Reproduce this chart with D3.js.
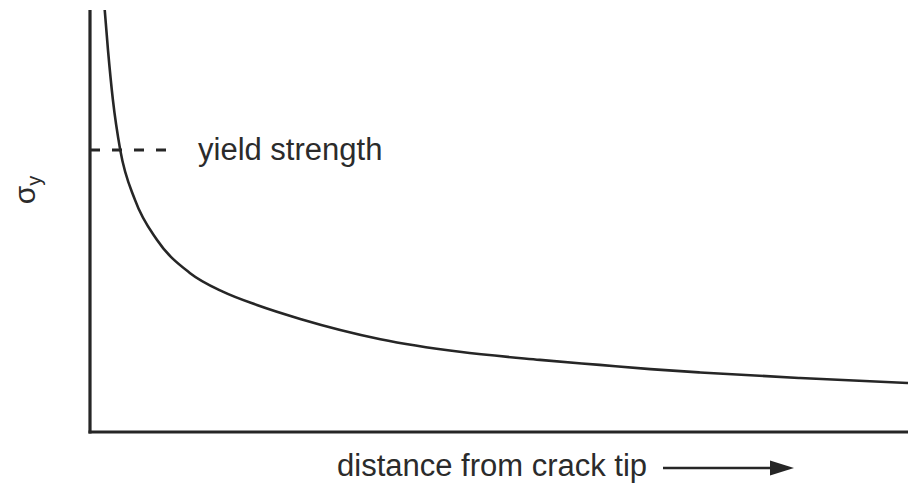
<!DOCTYPE html>
<html>
<head>
<meta charset="utf-8">
<script src="https://cdn.jsdelivr.net/npm/d3@7"></script>
<style>
  body { margin: 0; background: #fff; }
  text { font-family: "Liberation Sans", Arial, sans-serif; fill: #2b2b2b; }
</style>
</head>
<body>
<script>
// distance from crack tip (arbitrary units) and local stress
var distance = [1.8, 2.2, 2.8, 3.7, 5.5, 8.2, 12.2, 16.3, 20.4, 25.7, 35.5, 45.2, 55.0, 62.3, 68.5, 74.6, 86.8, 100];
var stress = [100, 90.5, 78.7, 66.8, 55.0, 45.5, 37.7, 33.2, 30.1, 26.8, 22.0, 19.0, 17.1, 15.9, 14.9, 14.1, 12.8, 11.6];
var yieldStrength = 66.8;
var yieldExtent = [0, 9.4];

var width = 908;
var height = 485;

var x = d3.scaleLinear().domain([0, 100]).range([90, 908]);
var y = d3.scaleLinear().domain([0, 100]).range([432, 10]);

var svg = d3.select('body').append('svg')
  .attr('width', width)
  .attr('height', height);

var ink = '#262626';

// axes, no ticks
svg.append('line')
  .attr('x1', x(0)).attr('x2', x(0))
  .attr('y1', y(100)).attr('y2', y(0) + 1.5)
  .attr('stroke', ink).attr('stroke-width', 3.2);
svg.append('line')
  .attr('x1', x(0) - 1.5).attr('x2', x(100))
  .attr('y1', y(0)).attr('y2', y(0))
  .attr('stroke', ink).attr('stroke-width', 3.2);

// yield strength dashes
svg.append('line')
  .attr('x1', x(yieldExtent[0])).attr('x2', x(yieldExtent[1]))
  .attr('y1', y(yieldStrength)).attr('y2', y(yieldStrength))
  .attr('stroke', ink).attr('stroke-width', 3)
  .attr('stroke-dasharray', '10,12');

svg.append('text')
  .attr('x', 198).attr('y', y(yieldStrength) + 10)
  .attr('font-size', 31)
  .text('yield strength');

var line = d3.line()
  .x(function(d, i) { return x(distance[i]); })
  .y(function(d) { return y(d); })
  .curve(d3.curveMonotoneX);

svg.append('path')
  .datum(stress)
  .attr('d', line)
  .attr('fill', 'none')
  .attr('stroke', ink)
  .attr('stroke-width', 2.6);

// y label
svg.append('text')
  .attr('transform', 'translate(35,190) rotate(-90)')
  .attr('text-anchor', 'middle')
  .attr('font-size', 30)
  .html('σ<tspan font-size="20" dy="6">y</tspan>');

// x label with arrow
svg.append('text')
  .attr('x', 337).attr('y', 476)
  .attr('font-size', 31)
  .text('distance from crack tip');

svg.append('line')
  .attr('x1', 663).attr('x2', 775)
  .attr('y1', 468).attr('y2', 468)
  .attr('stroke', ink).attr('stroke-width', 2.6);
svg.append('path')
  .attr('d', 'M770,460.5 L794,468 L770,475.5 Z')
  .attr('fill', ink);
</script>
</body>
</html>
